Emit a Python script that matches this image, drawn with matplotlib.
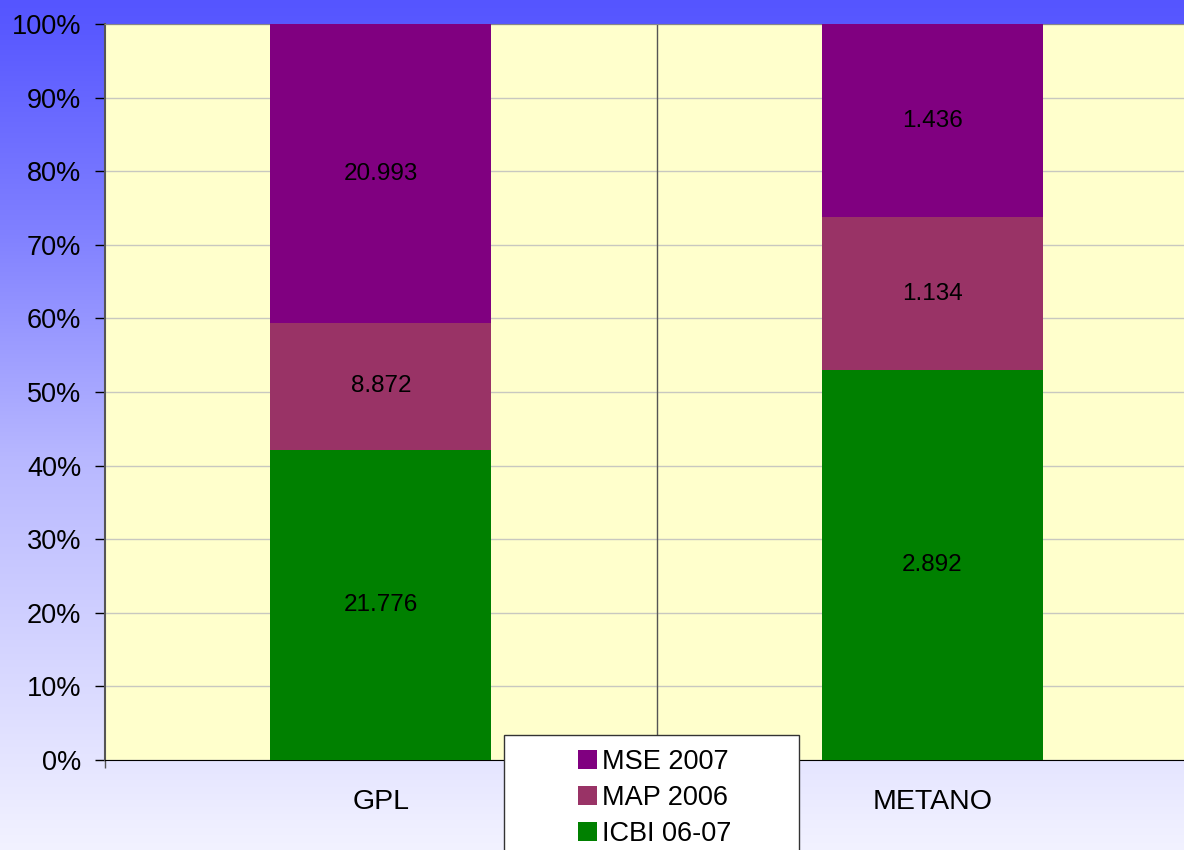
import matplotlib.pyplot as plt
import matplotlib.patches as patches
import numpy as np
from matplotlib.ticker import PercentFormatter

# data
categories = ["GPL", "METANO"]
series_names = ["ICBI 06-07", "MAP 2006", "MSE 2007"]
icbi = [21776, 2892]
map_2006 = [8872, 1134]
mse = [20993, 1436]
colors = ["#008000", "#993366", "#800080"]

plt.rcParams['font.family'] = ['Liberation Sans', 'DejaVu Sans']

W, H = 1184, 850
fig = plt.figure(figsize=(W / 100, H / 100), dpi=100)

# background gradient (blue at top to pale lavender at bottom)
bg = fig.add_axes((0, 0, 1, 1), zorder=-10)
ys = np.arange(H)
stops_y = [0, 24, 230, 460, 820, 850]
stops_v = [0x55, 0x58, 0x80, 0xB8, 0xEE, 0xF2]
v = np.interp(ys, stops_y, stops_v) / 255.0
grad = np.zeros((H, 1, 3))
grad[:, 0, 0] = v
grad[:, 0, 1] = v
grad[:, 0, 2] = 1.0
bg.imshow(grad, aspect='auto', extent=(0, 1, 0, 1))
bg.axis('off')

# main axes (right edge runs past the figure like the original)
left, right, top, bottom = 105, 1208, 24, 760
ax = fig.add_axes((left / W, 1 - bottom / H, (right - left) / W, (bottom - top) / H))
ax.set_facecolor("#FFFFCC")

data = np.array([icbi, map_2006, mse], dtype=float)
totals = data.sum(axis=0)
shares = data / totals * 100

x = np.arange(len(categories))
base = np.zeros(len(categories))
for i, name in enumerate(series_names):
    ax.bar(x, shares[i], 0.4, bottom=base, color=colors[i], label=name, zorder=3)
    for j in range(len(categories)):
        txt = f"{int(data[i, j]):,}".replace(",", ".")
        ax.text(x[j], base[j] + shares[i, j] / 2, txt, ha="center", va="center",
                fontsize=17.5, color="black", zorder=4)
    base += shares[i]

ax.set_xlim(-0.5, 1.5)
ax.set_ylim(0, 100)

ax.set_yticks(np.arange(0, 101, 10))
ax.yaxis.set_major_formatter(PercentFormatter(decimals=0))
ax.yaxis.grid(True, color="#C8C8C0", linewidth=1, zorder=1)
ax.set_axisbelow(True)
ax.tick_params(axis='y', labelsize=19.5, length=7, width=1, pad=10, color="black")

ax.set_xticks(x)
ax.set_xticklabels(categories)
ax.set_xticks([-0.5, 0.5, 1.5], minor=True)
ax.tick_params(axis='x', which='major', length=0, labelsize=20.5, pad=21)
ax.tick_params(axis='x', which='minor', length=6, width=1, color="#555555")

ax.axvline(0.5, color="#555555", linewidth=1, zorder=2)

ax.spines['left'].set_color("#555555")
ax.spines['left'].set_linewidth(1.5)
ax.spines['bottom'].set_color("black")
ax.spines['top'].set_color("#888888")
ax.spines['right'].set_visible(False)

# legend box (cut off at the bottom of the picture)
box = patches.Rectangle((504 / W, 1 - 860 / H), 295 / W, 125 / H,
                        transform=fig.transFigure, facecolor="white",
                        edgecolor="#333333", linewidth=1, zorder=5)
fig.add_artist(box)
handles, labels = ax.get_legend_handles_labels()
leg = fig.legend(handles[::-1], labels[::-1], loc="upper left",
                 bbox_to_anchor=(567 / W, 1 - 738 / H), frameon=False,
                 fontsize=19.5, handlelength=0.7, handleheight=0.7,
                 handletextpad=0.2, labelspacing=0.38, borderaxespad=0)
leg.set_zorder(6)

fig.savefig("out.png", dpi=100)
